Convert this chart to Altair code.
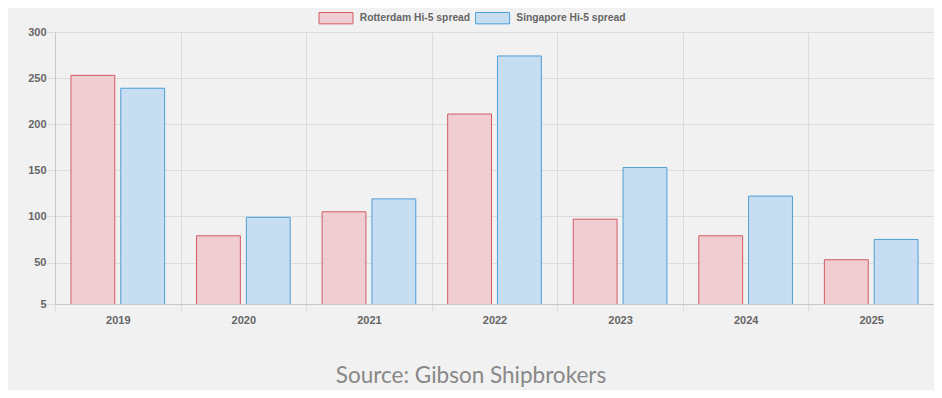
import altair as alt
import pandas as pd

years = ["2019", "2020", "2021", "2022", "2023", "2024", "2025"]
rotterdam = [253, 79, 105, 211, 97, 79, 53]
singapore = [239, 99, 119, 274, 153, 122, 75]
series_names = ["Rotterdam Hi-5 spread", "Singapore Hi-5 spread"]
y_ticks = [5, 50, 100, 150, 200, 250, 300]

rows = []
for i, yr in enumerate(years):
    rows.append({"year": yr, "series": series_names[0], "value": rotterdam[i]})
    rows.append({"year": yr, "series": series_names[1], "value": singapore[i]})
df = pd.DataFrame(rows)

box = "M-1.5,-0.5H1.5V0.5H-1.5Z"


def make_legend():
    return alt.Legend(title=None, orient="none", legendX=269, legendY=-26,
                      direction="horizontal", symbolType=box, symbolSize=514,
                      symbolStrokeWidth=1, labelFont="Liberation Sans",
                      labelFontWeight="bold", labelFontSize=10.3, labelColor="#666666",
                      labelOffset=11.7, columnPadding=1.6, padding=0)


bars = alt.Chart(df).mark_bar(strokeWidth=1, clip=True).encode(
    x=alt.X("year:N", sort=years, title=None,
            scale=alt.Scale(paddingInner=0, paddingOuter=0),
            axis=alt.Axis(labelAngle=0, tickBand="extent", grid=True, gridColor="#dcdcdc",
                          tickColor="#dcdcdc", tickSize=7, domainColor="#c8c8c8",
                          labelFont="Liberation Sans", labelFontWeight="bold", labelFontSize=11,
                          labelColor="#666666", labelPadding=3)),
    xOffset=alt.XOffset("series:N", sort=series_names,
                        scale=alt.Scale(paddingInner=0.12, paddingOuter=0.32)),
    y=alt.Y("value:Q", title=None, scale=alt.Scale(domain=[5, 300], nice=False, zero=False),
            axis=alt.Axis(values=y_ticks, grid=True, gridColor="#dcdcdc", tickColor="#dcdcdc",
                          tickSize=8, domainColor="#c8c8c8", labelFont="Liberation Sans",
                          labelFontWeight="bold", labelFontSize=11, labelColor="#666666",
                          labelPadding=1)),
    fill=alt.Fill("series:N", sort=series_names,
                  scale=alt.Scale(domain=series_names, range=["#efcdd0", "#c7def2"]),
                  legend=make_legend()),
    stroke=alt.Stroke("series:N", sort=series_names,
                      scale=alt.Scale(domain=series_names, range=["#d45b64", "#4f9fd6"]),
                      legend=make_legend()),
)

source = alt.Chart(pd.DataFrame({"t": ["Source: Gibson Shipbrokers"]})).mark_text(
    font="Lato", fontSize=22.5, color="#888888", align="center", baseline="middle"
).encode(text="t:N", x=alt.value(416), y=alt.value(344))

chart = alt.layer(bars, source).properties(
    width=879, height=272,
    background="#f1f1f1",
    padding={"left": 47, "top": 24, "right": 0, "bottom": 86},
    autosize=alt.AutoSizeParams(type="none"),
).configure_view(stroke=None)

chart.save("out.html", embed_options={"renderer": "svg", "actions": False})
